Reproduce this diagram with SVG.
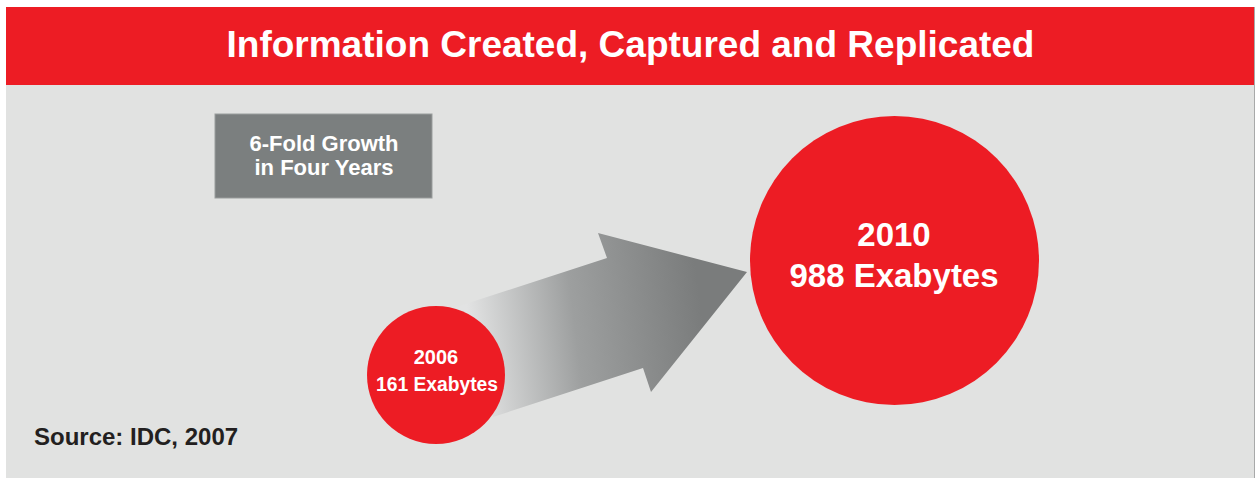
<svg xmlns="http://www.w3.org/2000/svg" width="1256" height="478" viewBox="0 0 1256 478">
  <defs>
    <linearGradient id="arrowGrad" gradientUnits="userSpaceOnUse" x1="470" y1="330" x2="700" y2="300">
      <stop offset="0" stop-color="#e2e3e3"/>
      <stop offset="0.45" stop-color="#9d9f9f"/>
      <stop offset="1" stop-color="#7a7c7c"/>
    </linearGradient>
    <style>
      .t { font-family: "Liberation Sans", Arial, sans-serif; font-weight: bold; fill: #ffffff; text-anchor: middle; }
      .red { fill: #ed1c24; }
    </style>
  </defs>
  <rect x="0" y="0" width="1256" height="478" fill="#ffffff"/>
  <rect x="6" y="85" width="1249" height="393" fill="#e1e2e1"/>
  <line x1="1254.5" y1="7" x2="1254.5" y2="478" stroke="#a8a9a9" stroke-width="1"/>

  <g id="title">
    <rect x="6" y="7" width="1248" height="78" class="red"/>
    <text class="t" x="630.5" y="57" font-size="37">Information Created, Captured and Replicated</text>
  </g>

  <g id="growth-box">
    <rect x="215" y="114" width="217" height="84" fill="#7b7f7f" stroke="#9a9d9d" stroke-width="1"/>
    <text class="t" x="324" y="151" font-size="22">6-Fold Growth</text>
    <text class="t" x="324" y="175" font-size="22">in Four Years</text>
  </g>

  <g id="connectors">
    <polygon points="453,308 607,258 598,233 747,272 651,392 643,368 493,417" fill="url(#arrowGrad)"/>
  </g>

  <g id="node-2006">
    <circle cx="436" cy="375" r="69" class="red"/>
    <text class="t" x="436" y="364" font-size="20">2006</text>
    <text class="t" x="437" y="391" font-size="20" textLength="122" lengthAdjust="spacingAndGlyphs">161 Exabytes</text>
  </g>

  <g id="node-2010">
    <circle cx="894.5" cy="260.5" r="144.5" class="red"/>
    <text class="t" x="894" y="246" font-size="33">2010</text>
    <text class="t" x="894" y="287" font-size="33">988 Exabytes</text>
  </g>

  <g id="source">
    <text x="34" y="445" font-size="24" font-family="'Liberation Sans', Arial, sans-serif" font-weight="bold" fill="#231f20">Source: IDC, 2007</text>
  </g>
</svg>
